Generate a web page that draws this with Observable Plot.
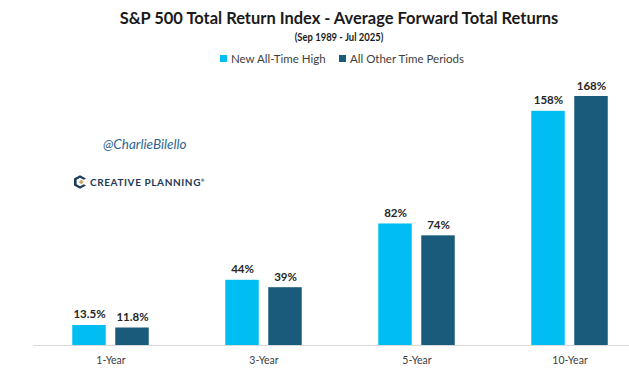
<!DOCTYPE html>
<html>
<head>
<meta charset="utf-8">
<script src="https://cdn.jsdelivr.net/npm/d3@7"></script>
<script src="https://cdn.jsdelivr.net/npm/@observablehq/plot@0.6"></script>
<style>
  html, body { margin: 0; padding: 0; background: #fff; }
  #wrap { position: relative; width: 629px; height: 372px; overflow: hidden; font-family: Lato, "Open Sans", sans-serif; }
  #wrap svg.plot { position: absolute; left: 0; top: 0; }
  .abs { position: absolute; white-space: nowrap; }
  #title { left: 39px; width: 600px; top: 7px; text-align: center; font-weight: 700; font-size: 17.5px; color: #1a1a1a; transform: scaleX(0.94); transform-origin: 300px 0; }
  #subtitle { left: 39px; width: 600px; top: 30px; text-align: center; font-weight: 700; font-size: 11.5px; color: #1a1a1a; transform: scaleX(0.82); transform-origin: 300px 0; }
  .leg { top: 52px; font-size: 11.5px; color: #404040; display: flex; align-items: center; }
  .leg span.sw { display: inline-block; width: 7px; height: 7px; margin-right: 4px; }
  #handle { left: 103px; top: 136px; font-style: italic; font-size: 13.5px; color: #2f6690; }
  #logo { left: 74px; top: 175px; display: flex; align-items: center; }
  #logo .word { font-weight: 700; font-size: 10px; letter-spacing: 0.6px; color: #1d3a58; margin-left: 4px; }
  #logo sup { font-size: 4px; letter-spacing: 0; }
</style>
</head>
<body>
<div id="wrap">
  <div id="title" class="abs">S&amp;P 500 Total Return Index - Average Forward Total Returns</div>
  <div id="subtitle" class="abs">(Sep 1989 - Jul 2025)</div>
  <div class="abs leg" style="left:220px"><span class="sw" style="background:#00BEF2"></span>New All-Time High</div>
  <div class="abs leg" style="left:339px"><span class="sw" style="background:#1A5B7C"></span>All Other Time Periods</div>
  <div id="handle" class="abs">@CharlieBilello</div>
  <div id="logo" class="abs">
    <svg width="12" height="14" viewBox="0 0 14 16">
      <path d="M7 0 L14 4 L11.5 5.5 L7 3 L3 5.3 L3 10.7 L7 13 L11.5 10.5 L14 12 L7 16 L0 12 L0 4 Z" fill="#1d3a58"/>
      <path d="M8.5 5 L11.5 8 L8.5 11 L5.5 8 Z" fill="#c9a872"/>
    </svg>
    <span class="word">CREATIVE PLANNING<sup>®</sup></span>
  </div>
</div>
<script>
// Forward horizons and average total returns (%)
const horizons = ["1-Year", "3-Year", "5-Year", "10-Year"];
const seriesNames = ["New All-Time High", "All Other Time Periods"];
const newHighReturns = [13.5, 44, 82, 158];
const otherReturns = [11.8, 39, 74, 168];
const seriesColors = ["#00BEF2", "#1A5B7C"];

const rows = horizons.flatMap((h, i) => [
  {horizon: h, series: seriesNames[0], value: newHighReturns[i]},
  {horizon: h, series: seriesNames[1], value: otherReturns[i]}
]);
const newRows = rows.filter(d => d.series === seriesNames[0]);
const otherRows = rows.filter(d => d.series === seriesNames[1]);

const fmt = v => (v < 20 ? v.toFixed(1) : String(Math.round(v))) + "%";

// The plot area runs past the right edge of the page; each horizon band is
// 153px wide, holding two 33.5px bars either side of its centre.
const xRange = [33.5, 645.5];
const band = (xRange[1] - xRange[0]) / horizons.length;
const half = band / 2;
const barW = 33.5, gap = 9.5;
const outer = half - gap / 2 - barW;   // inset on the outer side
const inner = half + gap / 2;          // inset on the far side
const shift = gap / 2 + barW / 2;      // offset of each bar centre

const labelOpts = {dy: -7, lineAnchor: "bottom", fontWeight: 700, fontSize: 11.5, fill: "#262626"};

const chart = Plot.plot({
  width: 629,
  height: 372,
  marginLeft: 33,
  marginRight: 0,
  marginTop: 0,
  marginBottom: 27,
  style: {fontFamily: "Lato, 'Open Sans', sans-serif", background: "transparent"},
  x: {domain: horizons, range: xRange, padding: 0, axis: null},
  y: {domain: [0, 168], range: [345, 96], axis: null},
  color: {domain: seriesNames, range: seriesColors},
  marks: [
    Plot.ruleY([0], {stroke: "#d9d9d9", strokeWidth: 1.2}),
    Plot.barY(newRows, {x: "horizon", y: "value", fill: "series", insetLeft: outer, insetRight: inner}),
    Plot.barY(otherRows, {x: "horizon", y: "value", fill: "series", insetLeft: inner, insetRight: outer}),
    Plot.text(newRows, {x: "horizon", y: "value", text: d => fmt(d.value), dx: -shift, ...labelOpts}),
    Plot.text(otherRows, {x: "horizon", y: "value", text: d => fmt(d.value), dx: shift, ...labelOpts}),
    Plot.axisX({anchor: "bottom", tickSize: 0, tickPadding: 11, fontSize: 10.5, color: "#404040", label: null})
  ]
});
chart.classList.add("plot");
document.getElementById("wrap").appendChild(chart);
</script>
</body>
</html>
